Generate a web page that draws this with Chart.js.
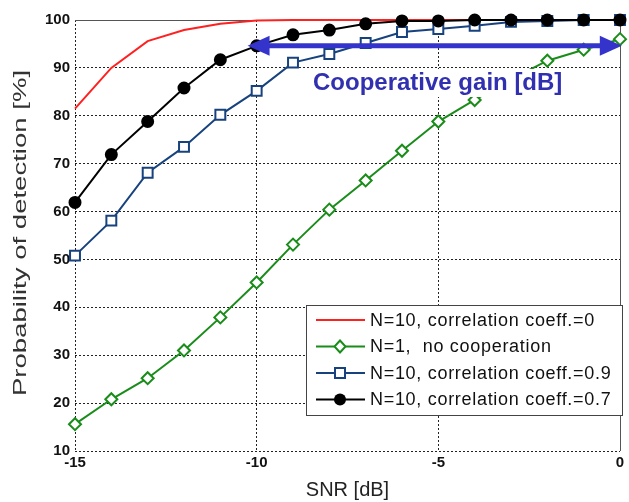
<!DOCTYPE html>
<html>
<head>
<meta charset="utf-8">
<script src="https://cdn.jsdelivr.net/npm/chart.js@4.4.1/dist/chart.umd.min.js"></script>
<style>
  body { margin: 0; background: #fff; }
  canvas { display: block; }
</style>
</head>
<body>
<canvas id="myChart" width="629" height="502"></canvas>
<script>
// SNR [dB] on the x axis
var snr = [-15, -14, -13, -12, -11, -10, -9, -8, -7, -6, -5, -4, -3, -2, -1, 0];

// probability of detection [%]
var pdCorr0  = [81.5, 90.0, 95.6, 97.9, 99.2, 99.9, 100, 100, 100, 100, 100, 100, 100, 100, 100, 100];
var pdNoCoop = [15.6, 20.8, 25.2, 31.0, 37.9, 45.2, 53.1, 60.4, 66.5, 72.7, 78.8, 83.3, 87.6, 91.5, 93.8, 96.0];
var pdCorr09 = [50.8, 58.1, 68.1, 73.5, 80.2, 85.2, 91.1, 92.9, 95.2, 97.5, 98.1, 98.8, 99.6, 99.8, 100, 100];
var pdCorr07 = [61.9, 71.9, 78.8, 85.8, 91.7, 94.6, 96.9, 97.9, 99.2, 99.8, 99.8, 100, 100, 100, 100, 100];

var seriesLabels = ['N=10, correlation coeff.=0', 'N=1,  no cooperation', 'N=10, correlation coeff.=0.9', 'N=10, correlation coeff.=0.7'];

var xTicks = [-15, -10, -5, 0];
var yTicks = [10, 20, 30, 40, 50, 60, 70, 80, 90, 100];

// the double arrow marking the cooperative gain
var gainArrow = { from: -10.25, to: 0.05, level: 94.6 };
var gainText = 'Cooperative gain [dB]';

function pts(values) {
    return snr.map(function (s, i) { return { x: s, y: values[i] }; });
}

var FONT = '"Liberation Sans", Arial, sans-serif';
var RED = '#ff2020', GREEN = '#1a8c1a', BLUE = '#17427e', BLACK = '#000000';

// legend drawn inside the plot, like the matlab one
var boxLegend = {
    id: 'boxLegend',
    afterDatasetsDraw: function (chart) {
        var c = chart.ctx;
        var x0 = 306, y0 = 305, w = 316, h = 110;
        c.save();
        c.fillStyle = '#fff';
        c.fillRect(x0, y0, w, h);
        c.strokeStyle = '#444';
        c.lineWidth = 1;
        c.strokeRect(x0 + 0.5, y0 + 0.5, w, h);
        c.font = '18px ' + FONT;
        c.letterSpacing = '0.7px';
        c.textBaseline = 'middle';
        var styles = [
            { color: RED, marker: null },
            { color: GREEN, marker: 'diamond' },
            { color: BLUE, marker: 'square' },
            { color: BLACK, marker: 'circle' }
        ];
        for (var i = 0; i < styles.length; i++) {
            var y = y0 + 15 + i * 26.5;
            var s = styles[i];
            c.strokeStyle = s.color;
            c.lineWidth = 2;
            c.beginPath();
            c.moveTo(316, y);
            c.lineTo(365, y);
            c.stroke();
            var mx = 340;
            if (s.marker === 'diamond') {
                c.fillStyle = '#fff';
                c.beginPath();
                c.moveTo(mx, y - 6); c.lineTo(mx + 5.5, y); c.lineTo(mx, y + 6); c.lineTo(mx - 5.5, y);
                c.closePath(); c.fill(); c.stroke();
            } else if (s.marker === 'square') {
                c.fillStyle = '#fff';
                c.fillRect(mx - 5, y - 5, 10, 10);
                c.strokeRect(mx - 5, y - 5, 10, 10);
            } else if (s.marker === 'circle') {
                c.fillStyle = BLACK;
                c.beginPath();
                c.arc(mx, y, 6, 0, Math.PI * 2);
                c.fill();
            }
            c.fillStyle = '#111';
            c.fillText(seriesLabels[i], 370, y + 1);
        }
        c.restore();
    }
};

// solid top/right frame, arrow annotation, stretched y title
var extras = {
    id: 'extras',
    beforeDatasetsDraw: function (chart) {
        var a = chart.chartArea, c = chart.ctx;
        c.save();
        c.strokeStyle = '#555';
        c.lineWidth = 1;
        c.beginPath();
        c.moveTo(a.left, a.top + 0.5);
        c.lineTo(a.right + 0.5, a.top + 0.5);
        c.lineTo(a.right + 0.5, a.bottom);
        c.stroke();
        c.restore();
    },
    afterDatasetsDraw: function (chart) {
        var c = chart.ctx;
        var xs = chart.scales.x, ys = chart.scales.y;
        var x1 = xs.getPixelForValue(gainArrow.from);
        var x2 = xs.getPixelForValue(gainArrow.to);
        var y = ys.getPixelForValue(gainArrow.level);
        var hl = 22, hw = 10;
        c.save();
        c.fillStyle = '#3434cc';
        c.strokeStyle = '#3434cc';
        c.lineWidth = 5;
        c.beginPath();
        c.moveTo(x1 + hl - 2, y);
        c.lineTo(x2 - hl + 2, y);
        c.stroke();
        c.beginPath();
        c.moveTo(x1, y); c.lineTo(x1 + hl, y - hw); c.lineTo(x1 + hl, y + hw); c.closePath();
        c.fill();
        c.beginPath();
        c.moveTo(x2, y); c.lineTo(x2 - hl, y - hw); c.lineTo(x2 - hl, y + hw); c.closePath();
        c.fill();

        // label with white background (hides the green line behind it)
        c.font = 'bold 24px ' + FONT;
        var tw = c.measureText(gainText).width;
        var tx = 313, ty = 83;
        c.fillStyle = '#fff';
        c.fillRect(tx - 2, ty - 14, tw + 4, 28);
        c.fillStyle = '#3030b0';
        c.textBaseline = 'middle';
        c.fillText(gainText, tx, ty);
        c.restore();
    },
    afterDraw: function (chart) {
        var c = chart.ctx;
        c.save();
        c.translate(21, 233);
        c.rotate(-Math.PI / 2);
        c.scale(1.45, 1);
        c.font = '19px ' + FONT;
        c.fillStyle = '#333';
        c.textAlign = 'center';
        c.textBaseline = 'middle';
        c.fillText('Probability of detection [%]', 0, 0);
        c.restore();
    }
};

var ctx = document.getElementById('myChart').getContext('2d');
var chart = new Chart(ctx, {
    type: 'line',
    data: {
        datasets: [{
            label: seriesLabels[0],
            data: pts(pdCorr0),
            borderColor: RED,
            borderWidth: 2,
            pointRadius: 0,
            order: 3
        }, {
            label: seriesLabels[1],
            data: pts(pdNoCoop),
            borderColor: GREEN,
            backgroundColor: '#fff',
            borderWidth: 2,
            pointStyle: 'rectRot',
            pointRadius: 6,
            pointBorderWidth: 2,
            order: 2
        }, {
            label: seriesLabels[2],
            data: pts(pdCorr09),
            borderColor: BLUE,
            backgroundColor: '#fff',
            borderWidth: 2,
            pointStyle: 'rect',
            pointRadius: 7,
            pointBorderWidth: 2,
            order: 1
        }, {
            label: seriesLabels[3],
            data: pts(pdCorr07),
            borderColor: BLACK,
            backgroundColor: BLACK,
            borderWidth: 2,
            pointStyle: 'circle',
            pointRadius: 5.5,
            order: 0
        }]
    },
    options: {
        responsive: false,
        animation: false,
        events: [],
        layout: { padding: { top: 20, right: 3, left: 0, bottom: 0 } },
        elements: { line: { tension: 0 } },
        datasets: { line: { clip: false } },
        plugins: {
            legend: { display: false },
            tooltip: { enabled: false }
        },
        scales: {
            x: {
                type: 'linear',
                min: -15,
                max: 0,
                afterBuildTicks: function (s) { s.ticks = xTicks.map(function (v) { return { value: v }; }); },
                afterFit: function (s) { s.height = 51; s.paddingLeft = 0; s.paddingRight = 0; },
                grid: { color: '#222', lineWidth: 1, drawTicks: false },
                border: { display: false, dash: [2, 2] },
                ticks: {
                    padding: 3,
                    color: '#111',
                    font: { family: FONT, size: 15, weight: 'bold' }
                },
                title: {
                    display: true,
                    text: 'SNR [dB]',
                    color: '#222',
                    padding: { top: 6, bottom: 0 },
                    font: { family: FONT, size: 20 }
                }
            },
            y: {
                min: 10,
                max: 100,
                afterBuildTicks: function (s) { s.ticks = yTicks.map(function (v) { return { value: v }; }); },
                afterFit: function (s) { s.width = 75; },
                grid: { color: '#222', lineWidth: 1, drawTicks: false },
                border: { display: false, dash: [2, 2] },
                ticks: {
                    padding: 5,
                    color: '#111',
                    font: { family: FONT, size: 15, weight: 'bold' }
                }
            }
        }
    },
    plugins: [extras, boxLegend]
});
</script>
</body>
</html>
